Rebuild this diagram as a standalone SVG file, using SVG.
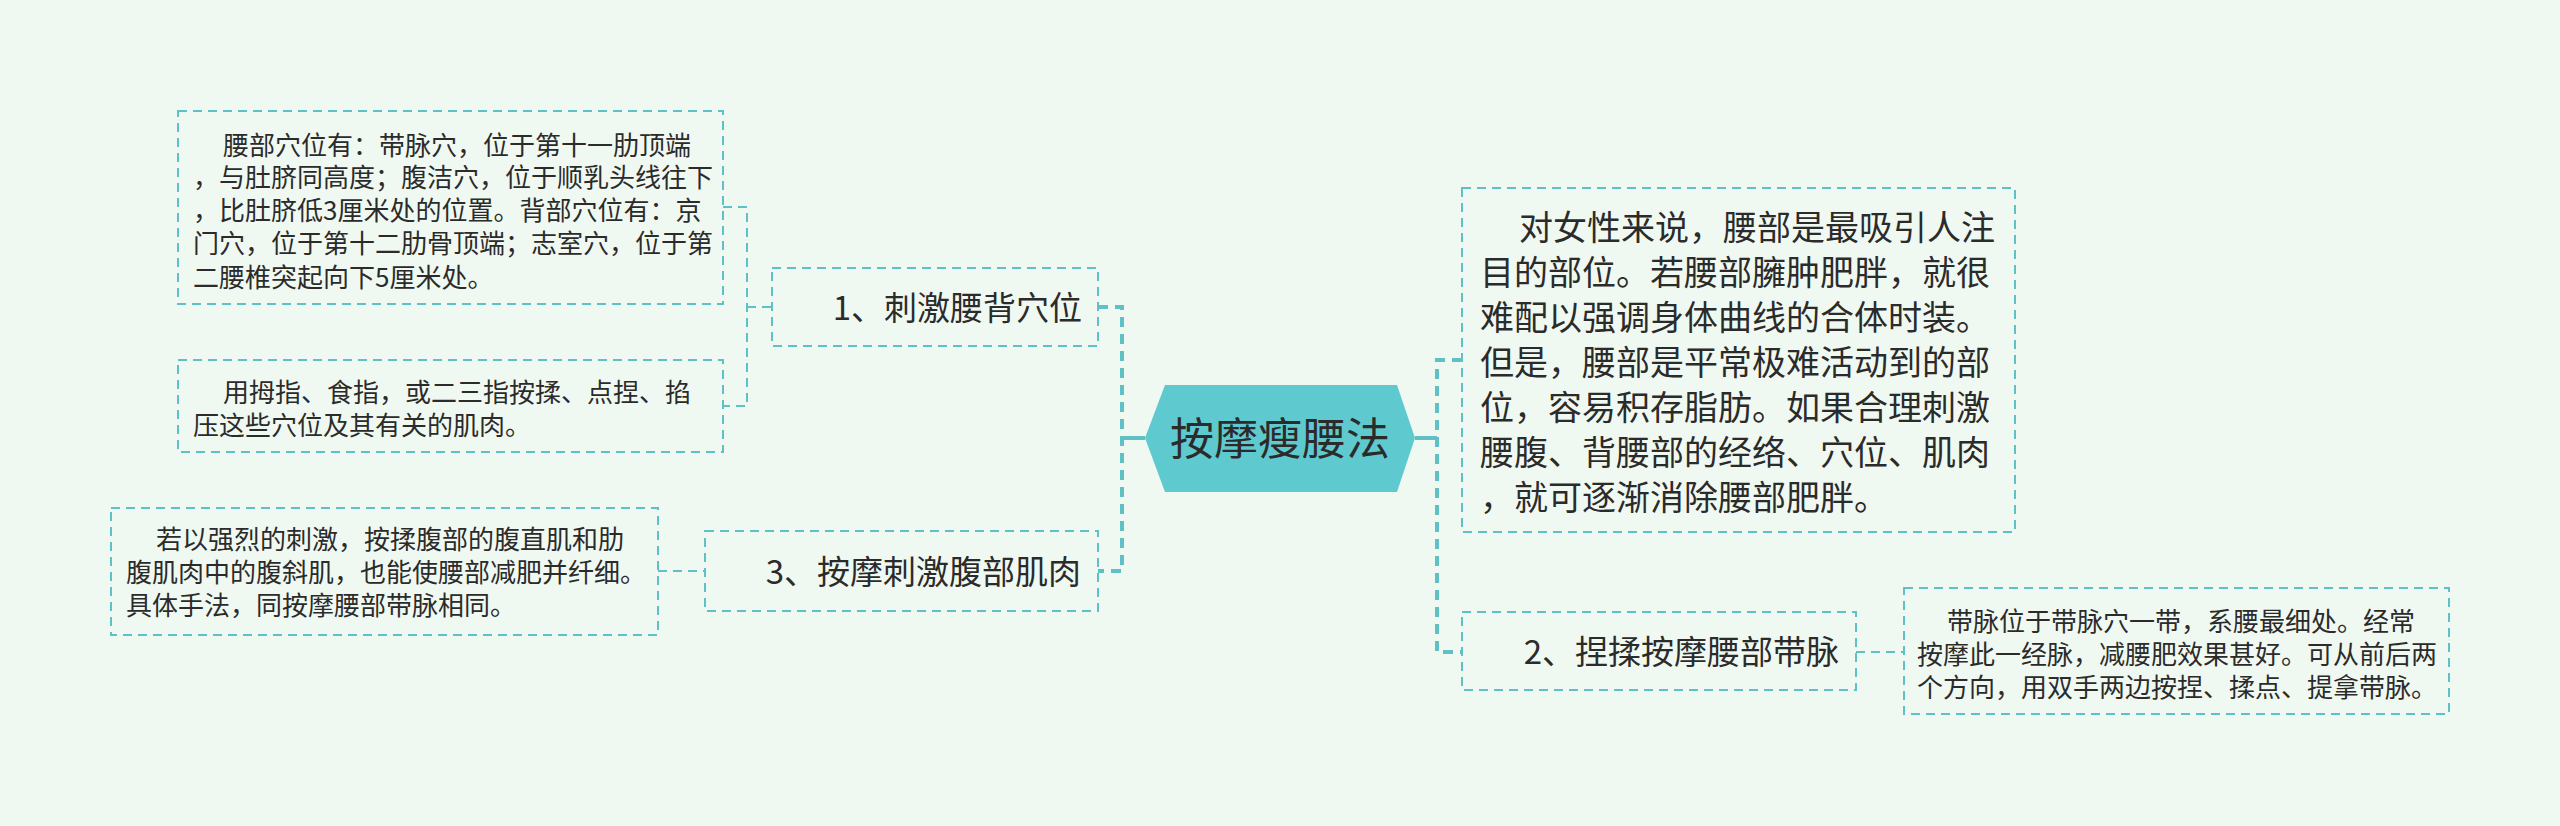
<svg xmlns="http://www.w3.org/2000/svg" width="2560" height="826" viewBox="0 0 2560 826">
<style>
.bg{fill:#f0f9f1}
.box{fill:none;stroke:#5fc1c5;stroke-width:2;stroke-dasharray:9 6}
.c1{fill:none;stroke:#5fc1c5;stroke-width:4;stroke-dasharray:10 7}
.c0{fill:none;stroke:#5fc1c5;stroke-width:4}
.c2{fill:none;stroke:#5fc1c5;stroke-width:2;stroke-dasharray:9 6}
text{font-family:"Noto Sans CJK SC","Noto Sans",sans-serif;fill:#2b2b2b}
.t44{font-size:44px}
.t33{font-size:33px}
.t34{font-size:34px}
.t26{font-size:26px}
</style>
<rect class="bg" x="0" y="0" width="2560" height="826"/>
<g id="connectors">
<path class="c0" d="M1122 438 H1145"/>
<path class="c1" d="M1098 307 H1122 V571 H1098"/>
<path class="c0" d="M1415 438 H1437"/>
<path class="c1" d="M1462 360 H1437 V652 H1462"/>
<path class="c2" d="M723 207 H747 V406 H723 M747 307 H772"/>
<path class="c2" d="M658 571 H705"/>
<path class="c2" d="M1856 652 H1904"/>
</g>
<g id="root">
<polygon points="1145,438 1165,385 1397,385 1415,438 1397,492 1165,492" fill="#5ecacf"/>
<text class="t44" x="1280" y="455" text-anchor="middle">按摩瘦腰法</text>
</g>
<g id="b1">
<rect class="box" x="772" y="268" width="326" height="78"/>
<text class="t33" x="1082" y="320" text-anchor="end">1、刺激腰背穴位</text>
</g>
<g id="b1d1">
<rect class="box" x="178" y="111" width="545" height="193"/>
<text class="t26"><tspan x="223" y="155">腰部穴位有：带脉穴，位于第十一肋顶端</tspan><tspan x="193" y="187">，与肚脐同高度；腹洁穴，位于顺乳头线往下</tspan><tspan x="193" y="220">，比肚脐低3厘米处的位置。背部穴位有：京</tspan><tspan x="193" y="253">门穴，位于第十二肋骨顶端；志室穴，位于第</tspan><tspan x="193" y="287">二腰椎突起向下5厘米处。</tspan></text>
</g>
<g id="b1d2">
<rect class="box" x="178" y="360" width="545" height="92"/>
<text class="t26"><tspan x="223" y="402">用拇指、食指，或二三指按揉、点捏、掐</tspan><tspan x="193" y="435">压这些穴位及其有关的肌肉。</tspan></text>
</g>
<g id="b3">
<rect class="box" x="705" y="531" width="393" height="80"/>
<text class="t33" x="1081" y="584" text-anchor="end">3、按摩刺激腹部肌肉</text>
</g>
<g id="b3d">
<rect class="box" x="111" y="508" width="547" height="127"/>
<text class="t26"><tspan x="156" y="549">若以强烈的刺激，按揉腹部的腹直肌和肋</tspan><tspan x="126" y="582">腹肌肉中的腹斜肌，也能使腰部减肥并纤细。</tspan><tspan x="126" y="615">具体手法，同按摩腰部带脉相同。</tspan></text>
</g>
<g id="r1">
<rect class="box" x="1462" y="188" width="553" height="344"/>
<text class="t34"><tspan x="1519" y="240">对女性来说，腰部是最吸引人注</tspan><tspan x="1480" y="285">目的部位。若腰部臃肿肥胖，就很</tspan><tspan x="1480" y="330">难配以强调身体曲线的合体时装。</tspan><tspan x="1480" y="375">但是，腰部是平常极难活动到的部</tspan><tspan x="1480" y="420">位，容易积存脂肪。如果合理刺激</tspan><tspan x="1480" y="465">腰腹、背腰部的经络、穴位、肌肉</tspan><tspan x="1480" y="510">，就可逐渐消除腰部肥胖。</tspan></text>
</g>
<g id="b2">
<rect class="box" x="1462" y="612" width="394" height="78"/>
<text class="t33" x="1839" y="664" text-anchor="end">2、捏揉按摩腰部带脉</text>
</g>
<g id="b2d">
<rect class="box" x="1904" y="588" width="545" height="126"/>
<text class="t26"><tspan x="1947" y="631">带脉位于带脉穴一带，系腰最细处。经常</tspan><tspan x="1917" y="664">按摩此一经脉，减腰肥效果甚好。可从前后两</tspan><tspan x="1917" y="697">个方向，用双手两边按捏、揉点、提拿带脉。</tspan></text>
</g>
</svg>
